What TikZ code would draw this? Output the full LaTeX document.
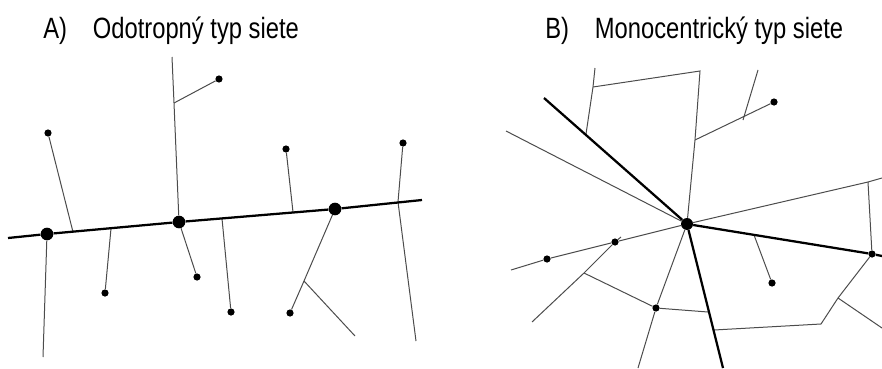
\documentclass[tikz,border=0pt]{standalone}
\usepackage{fontspec}
\newfontfamily\titlefont[FakeStretch=0.81]{Liberation Sans}
\usetikzlibrary{positioning}

\begin{document}
\begin{tikzpicture}[x=0.75pt, y=-0.75pt, node distance = 0mm and 19pt,
    hub/.style={circle,inner sep=0pt,minimum size=9.5pt,fill=black},
    town/.style={circle,inner sep=0pt,minimum size=5.4pt,fill=black},
    trunk/.style={line width=1.7pt,black},
    road/.style={line width=0.75pt,black!70},
    caption/.style={inner sep=0pt,font=\titlefont\fontsize{22}{26}\selectfont},
   ]
    \useasboundingbox (0,0) rectangle (882,368);

    \node (labelA) [caption,anchor=base west] at (43,38) {A)};
    \node (titleA) [caption,base right=of labelA] {Odotropný typ siete};
    \node (labelB) [caption,anchor=base west] at (545,38) {B)};
    \node (titleB) [caption,base right=of labelB] {Monocentrický typ siete};

    % odotropna siet
    \node (a1) [hub] at (47,234) {};
    \node (a2) [hub] at (179,222) {};
    \node (a3) [hub] at (335,209) {};
    \node (t1) [town] at (48,133) {};
    \node (t2) [town] at (219,79) {};
    \node (t3) [town] at (286,149) {};
    \node (t4) [town] at (403,143) {};
    \node (t5) [town] at (105,293) {};
    \node (t6) [town] at (197,277) {};
    \node (t7) [town] at (231,312) {};
    \node (t8) [town] at (290,313) {};
    \coordinate (aW) at (8,238);
    \coordinate (aE) at (422,200);
    \coordinate (j1) at (73,232);
    \coordinate (n2) at (172,57);
    \coordinate (j2) at (174,103);
    \coordinate (j3) at (293,212);
    \coordinate (j4) at (398,202);
    \coordinate (s4) at (416,341);
    \coordinate (s1) at (43,357);
    \coordinate (j6) at (111,228.5);
    \coordinate (j8) at (222,218.5);
    \coordinate (j9) at (304,281);
    \coordinate (e9) at (355,336);

    \draw[road] (t1) -- (j1);
    \draw[road] (n2) -- (j2) -- (a2);
    \draw[road] (j2) -- (t2);
    \draw[road] (t3) -- (j3);
    \draw[road] (t4) -- (j4) -- (s4);
    \draw[road] (a1) -- (s1);
    \draw[road] (j6) -- (t5);
    \draw[road] (a2) -- (t6);
    \draw[road] (j8) -- (t7);
    \draw[road] (a3) -- (j9) -- (t8);
    \draw[road] (j9) -- (e9);
    \draw[trunk] (aW) -- (a1) -- (a2) -- (a3) -- (aE);

    % monocentricka siet
    \node (c)  [hub,minimum size=9pt] at (687,224) {};
    \node (b1) [town] at (872,254) {};
    \node (b2) [town] at (615,242) {};
    \node (b3) [town] at (547,259) {};
    \node (b4) [town] at (656,308) {};
    \node (b5) [town] at (772,283) {};
    \node (b6) [town] at (774,102) {};
    \coordinate (bNW) at (544,98);
    \coordinate (bS)  at (723,368);
    \coordinate (bE)  at (882,256);
    \coordinate (wA)  at (506,131);
    \coordinate (eA)  at (882,178);
    \coordinate (kE)  at (868,182);
    \coordinate (wL)  at (511,270);
    \coordinate (sw1) at (532,322);
    \coordinate (sw2) at (584,273);
    \coordinate (sw3) at (621,237);
    \coordinate (sd)  at (638,368);
    \coordinate (m1)  at (708,312);
    \coordinate (m2)  at (714,330);
    \coordinate (m3)  at (821,324);
    \coordinate (m4)  at (838,298);
    \coordinate (m5)  at (882,328);
    \coordinate (f1)  at (754,235);
    \coordinate (u1)  at (595,68);
    \coordinate (u2)  at (593,87);
    \coordinate (u3)  at (586,134);
    \coordinate (u4)  at (700,71);
    \coordinate (u5)  at (695,140);
    \coordinate (v1)  at (758,70);
    \coordinate (v2)  at (743,120);

    \draw[road] (wA) -- (c);
    \draw[road] (c) -- (kE) -- (eA);
    \draw[road] (kE) -- (b1);
    \draw[road] (c) -- (b2) -- (b3) -- (wL);
    \draw[road] (sw1) -- (sw2) -- (b2) -- (sw3);
    \draw[road] (sw2) -- (b4) -- (m1);
    \draw[road] (c) -- (b4) -- (sd);
    \draw[road] (m2) -- (m3) -- (m4) -- (b1);
    \draw[road] (m4) -- (m5);
    \draw[road] (f1) -- (b5);
    \draw[road] (u1) -- (u2) -- (u3);
    \draw[road] (u2) -- (u4) -- (u5) -- (c);
    \draw[road] (u5) -- (b6);
    \draw[road] (v1) -- (v2);
    \draw[trunk] (bNW) -- (c) -- (bS);
    \draw[trunk] (c) -- (b1) -- (bE);
\end{tikzpicture}
\end{document}
